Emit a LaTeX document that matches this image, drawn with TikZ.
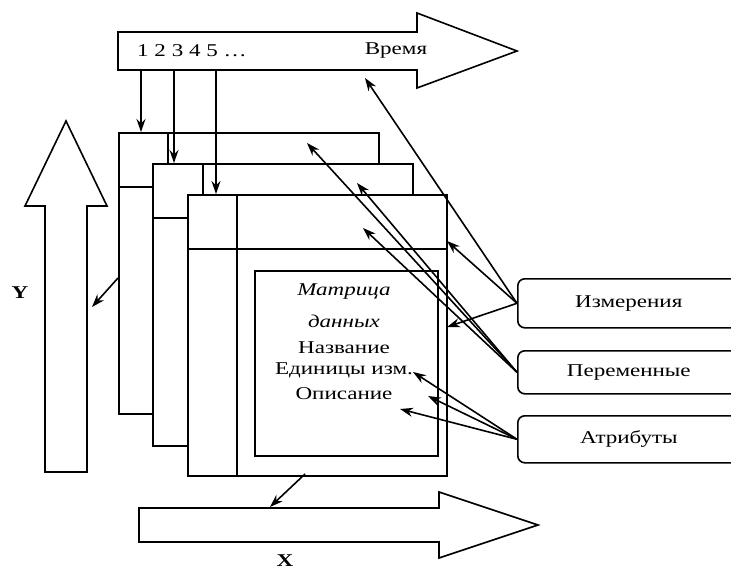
\documentclass[tikz,border=0pt]{standalone}
\usepackage{fontspec}
\setmainfont{Liberation Serif}[FakeStretch=1.28]
\usetikzlibrary{positioning}
\usetikzlibrary{arrows.meta}

\tikzset{
  sheet/.style={draw, line width=1.6pt, fill=white, anchor=north west, inner sep=0pt,
                minimum width=260pt, minimum height=281pt},
  lbl/.style={draw=none, inner sep=1pt, font=\fontsize{18}{20}\selectfont},
  tag/.style={draw, rounded corners=7pt, line width=1.6pt, anchor=north west, inner sep=0pt,
              minimum width=222pt, font=\fontsize{18}{20}\selectfont},
  ptr/.style={-{Stealth[length=13pt,width=9pt]}, line width=1.6pt},
  axis/.style={draw, line width=1.6pt, fill=white, line join=miter},
}

\begin{document}
\begin{tikzpicture}[x=1pt, y=-1pt]
\useasboundingbox (0,0) rectangle (731,572);
\clip (0,0) rectangle (731,572);

% time axis
\draw[axis] (118,32) -- (417,32) -- (417,13) -- (517,51) -- (417,88) -- (417,70) -- (118,70) -- cycle;
\node[lbl, anchor=west] at (136,51) (nums) {1 2 3 4 5 \dots};
\node[lbl] at (396,51) (vrem) {Время};
\coordinate (t1) at (141,70);
\coordinate (t2) at (174,70);
\coordinate (t3) at (216,70);

% Y axis
\draw[axis] (45,472) -- (45,206) -- (25,206) -- (66,121) -- (107,206) -- (87,206) -- (87,472) -- cycle;
\node[lbl, font=\fontsize{18}{20}\selectfont\bfseries] at (20,293) (ylab) {Y};

% X axis
\draw[axis] (139,508) -- (439,508) -- (439,492) -- (538,525) -- (439,558) -- (439,542) -- (139,542) -- cycle;
\node[lbl, font=\fontsize{18}{20}\selectfont\bfseries] at (285,561) (xlab) {X};

% sheets
\node[sheet] at (118,132) (fr1) {};
\draw[line width=1.6pt] ([xshift=50pt]fr1.north west) -- ([xshift=50pt]fr1.south west);
\draw[line width=1.6pt] ([yshift=-55pt]fr1.north west) -- ([yshift=-55pt]fr1.north east);

\node[sheet, minimum height=282pt] at (152,163) (fr2) {};
\draw[line width=1.6pt] ([xshift=51pt]fr2.north west) -- ([xshift=51pt]fr2.south west);
\draw[line width=1.6pt] ([yshift=-55pt]fr2.north west) -- ([yshift=-55pt]fr2.north east);

\node[sheet, minimum width=259pt] at (187,194) (fr3) {};
\draw[line width=1.6pt] ([xshift=50pt]fr3.north west) -- ([xshift=50pt]fr3.south west);
\draw[line width=1.6pt] ([yshift=-55pt]fr3.north west) -- ([yshift=-55pt]fr3.north east);

\node[sheet, minimum width=183pt, minimum height=185pt] at (254,270) (inner) {};
\node[lbl, font=\fontsize{18}{20}\selectfont\itshape] at (344,292) (mat) {Матрица};
\node[lbl, font=\fontsize{18}{20}\selectfont\itshape] at (344,321) (dan) {данных};
\node[lbl] at (344,348) (naz) {Название};
\node[lbl] at (344,370) (edi) {Единицы изм.};
\node[lbl] at (344,394) (opi) {Описание};

% time to sheets
\draw[ptr] (t1) -- (t1 |- fr1.north);
\draw[ptr] (t2) -- (t2 |- fr2.north);
\draw[ptr] (t3) -- (t3 |- fr3.north);

% sheets to axes
\coordinate (ys) at (118,278);
\coordinate (yt) at (92,307);
\coordinate (xs) at (305,474);
\coordinate (xt) at (270,507);
\draw[ptr] (ys) -- (yt);
\draw[ptr] (xs) -- (xt);

% legend boxes
\node[tag, minimum height=49pt] at (517,278) (izm) {Измерения};
\node[tag, minimum height=43pt] at (517,350) (per) {Переменные};
\node[tag, minimum height=47pt] at (517,415) (atr) {Атрибуты};

\coordinate (i1) at (365,78);
\coordinate (i2) at (447,241);
\coordinate (i3) at (447,327);
\draw[ptr] (izm.west) -- (i1);
\draw[ptr] (izm.west) -- (i2);
\draw[ptr] (izm.west) -- (i3);

\coordinate (p1) at (307,143);
\coordinate (p2) at (357,183);
\coordinate (p3) at (363,228);
\draw[ptr] (per.west) -- (p1);
\draw[ptr] (per.west) -- (p2);
\draw[ptr] (per.west) -- (p3);

\coordinate (a1) at (413,372);
\coordinate (a2) at (428,396);
\coordinate (a3) at (400,409);
\draw[ptr] (atr.west) -- (a1);
\draw[ptr] (atr.west) -- (a2);
\draw[ptr] (atr.west) -- (a3);

\end{tikzpicture}
\end{document}
